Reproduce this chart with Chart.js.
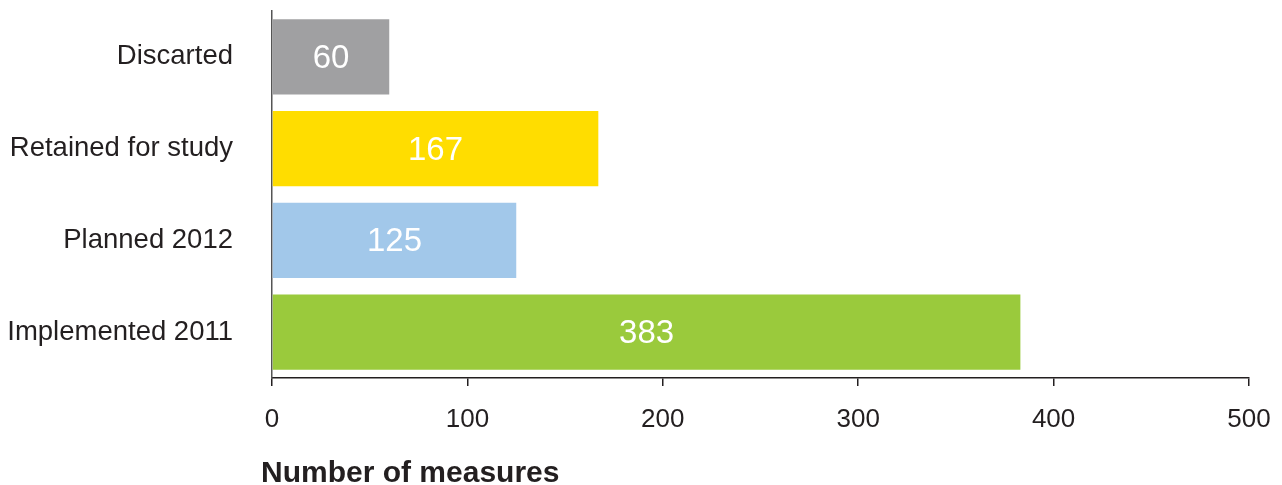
<!DOCTYPE html>
<html>
<head>
<meta charset="utf-8">
<script src="https://cdn.jsdelivr.net/npm/chart.js@4/dist/chart.umd.min.js"></script>
<style>
    html, body { margin: 0; padding: 0; background: #ffffff; }
    #wrap { width: 1282px; height: 485px; position: relative; }
</style>
</head>
<body>
<div id="wrap"><canvas id="measuresChart"></canvas></div>
<script>
/* =========================
   DATA
========================= */

const categories = ["Discarted", "Retained for study", "Planned 2012", "Implemented 2011"];
const measureCounts = [60, 167, 125, 383];
const barColors = ["#a0a0a2", "#ffdd00", "#a2c8ea", "#9aca3c"];
const xTicks = [0, 100, 200, 300, 400, 500];
const axisTitle = "Number of measures";

/* =========================
   PLUGINS
========================= */

// white value inside each bar
const valueLabels = {
    id: "valueLabels",
    afterDatasetsDraw(chart) {
        const ctx = chart.ctx;
        const meta = chart.getDatasetMeta(0);
        ctx.save();
        ctx.fillStyle = "#ffffff";
        ctx.font = "33px 'Liberation Sans', Arial, sans-serif";
        ctx.textAlign = "center";
        ctx.textBaseline = "middle";
        meta.data.forEach((bar, i) => {
            const x = (bar.x + bar.base) / 2;
            ctx.fillText(String(measureCounts[i]), x, bar.y + 2);
        });
        ctx.restore();
    }
};

// bold axis title, slightly left of the axis
const bottomTitle = {
    id: "bottomTitle",
    afterDraw(chart) {
        const ctx = chart.ctx;
        ctx.save();
        ctx.fillStyle = "#231f20";
        ctx.font = "bold 30px 'Liberation Sans', Arial, sans-serif";
        ctx.textAlign = "left";
        ctx.textBaseline = "middle";
        ctx.fillText(axisTitle, chart.chartArea.left - 11, 474);
        ctx.restore();
    }
};

/* =========================
   CHART
========================= */

new Chart(document.getElementById("measuresChart"), {

    type: "bar",

    data: {
        labels: categories,
        datasets: [{
            data: measureCounts,
            backgroundColor: barColors,
            borderWidth: 0,
            categoryPercentage: 1,
            barPercentage: 0.82
        }]
    },

    options: {
        indexAxis: "y",
        responsive: true,
        maintainAspectRatio: false,
        animation: false,
        layout: {
            padding: { top: 11, right: 33, left: 0, bottom: 0 }
        },
        plugins: {
            legend: { display: false },
            tooltip: { enabled: false }
        },
        scales: {
            x: {
                min: 0,
                max: 500,
                afterFit: s => {
                    s.height = 107;
                    s.paddingLeft = 0;
                    s.paddingRight = 0;
                },
                afterBuildTicks: s => { s.ticks = xTicks.map(v => ({ value: v })); },
                grid: {
                    drawOnChartArea: false,
                    drawTicks: true,
                    tickLength: 8,
                    color: "#231f20",
                    lineWidth: 1.5
                },
                border: { display: true, color: "#231f20", width: 1.5 },
                ticks: {
                    color: "#231f20",
                    padding: 18,
                    maxRotation: 0,
                    font: { family: "'Liberation Sans', Arial, sans-serif", size: 26 }
                }
            },
            y: {
                afterFit: s => {
                    s.width = 272;
                    s.paddingTop = 0;
                    s.paddingBottom = 0;
                },
                grid: { display: false, drawTicks: false },
                border: { display: true, color: "#555555", width: 1.5 },
                ticks: {
                    color: "#231f20",
                    padding: 39,
                    font: { family: "'Liberation Sans', Arial, sans-serif", size: 27.5 }
                }
            }
        }
    },

    plugins: [valueLabels, bottomTitle]
});
</script>
</body>
</html>
